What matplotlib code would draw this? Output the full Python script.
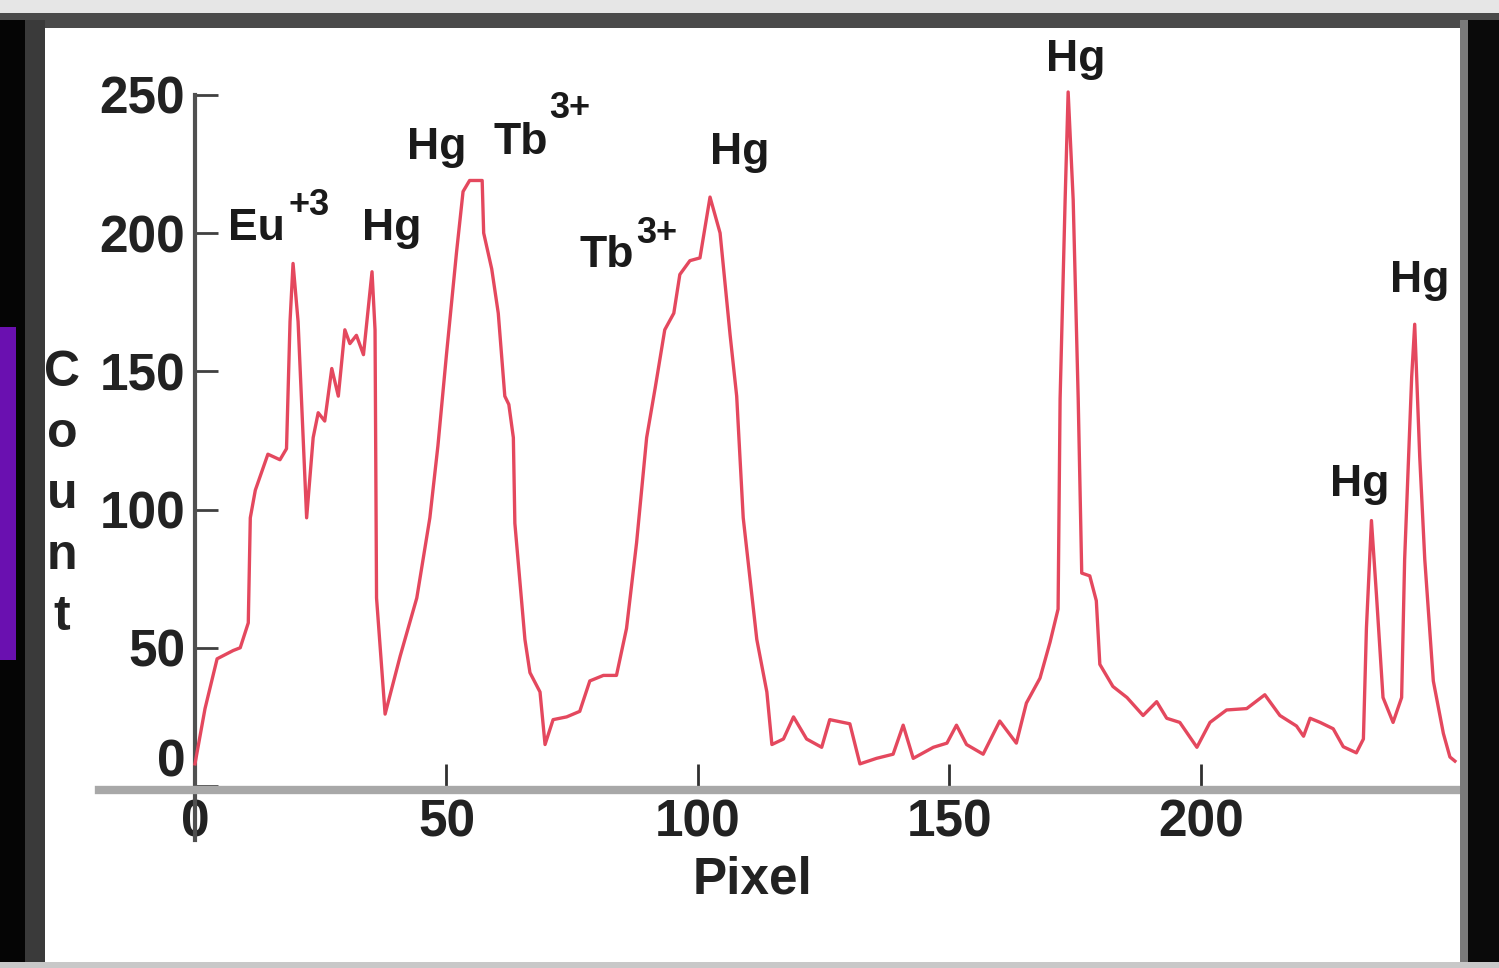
import matplotlib
matplotlib.use("Agg")
import matplotlib.pyplot as plt
import matplotlib.transforms as mtransforms
from matplotlib.patches import Rectangle

W, H = 1499, 968

# spectrum (pixel index, counts)
pixel = [0, 2, 4.4, 7.6, 9, 10.6, 11, 12, 14.5, 16.9, 18.2, 18.9, 19.5, 20.5,
         22.2, 23.5, 24.5, 25.8, 27.2, 28.5, 29.8, 30.8, 32.1, 33.5, 35.2, 35.8,
         36.1, 37.8, 40.8, 44.1, 46.7, 48.3, 50, 52, 53.3, 54.6, 57.1, 57.4, 59,
         60.3, 61.6, 62.4, 63.3, 63.6, 65.6, 66.6, 68.6, 69.6, 71.2, 73.9, 76.5,
         78.5, 81.2, 83.8, 85.8, 87.8, 89.8, 91.5, 93.4, 95.2, 96.4, 98.4, 100.4,
         102.4, 104.4, 106.4, 107.7, 109, 111.7, 113.7, 114.7, 117, 119, 121.6,
         124.6, 126.2, 130.2, 132.2, 135.5, 138.8, 140.8, 142.8, 146.8, 149.5,
         151.4, 153.4, 156.7, 160, 163.3, 165.3, 168, 170, 171.6, 172, 173,
         173.6, 174.6, 175.6, 176.3, 177.9, 179.2, 179.9, 182.5, 185.3, 188.5,
         191.2, 193.2, 195.8, 199.2, 201.8, 205.1, 209.1, 212.7, 215.7, 219,
         220.4, 221.7, 223.7, 226.3, 228.3, 230.9, 232.3, 232.9, 233.9, 234.9,
         236.2, 238.2, 239.9, 240.5, 241.9, 242.5, 243.5, 244.5, 246.2, 248.2,
         249.5, 250.5]
counts = [8, 28, 46, 49, 50, 59, 97, 107, 120, 118, 122, 168, 189, 168,
          97, 126, 135, 132, 151, 141, 165, 160, 163, 156, 186, 165,
          68, 26, 47, 68, 97, 123, 156, 193, 215, 219, 219, 200, 187,
          171, 141, 138, 126, 95, 53, 41, 34, 15, 24, 25, 27,
          38, 40, 40, 57, 88, 126, 144, 165, 171, 185, 190, 191,
          213, 200, 163, 141, 97, 53, 34, 15, 17, 25, 17,
          14, 24, 22.5, 8, 10, 11.5, 22, 10, 14, 15.5,
          22, 15, 11.5, 23.5, 15.5, 30, 39, 52, 64, 140, 212,
          251, 212, 140, 77, 76, 67, 44, 36, 32, 25.5,
          30.5, 24.5, 23, 14, 23, 27.5, 28, 33, 25.5, 21.7,
          18, 24.5, 23, 20.7, 14.2, 12, 17, 57, 96, 69,
          32, 23, 32, 82, 148, 167, 119, 82, 38, 19,
          10.5, 9]

xticks = [0, 50, 100, 150, 200]
yticks = [0, 50, 100, 150, 200, 250]

peak_labels = ["Eu", "Hg", "Hg", "Tb", "Tb", "Hg", "Hg", "Hg", "Hg"]
label_x = [12.2, 39.2, 48.1, 64.8, 81.9, 108.3, 175.0, 231.6, 243.5]
label_y = [201.8, 201.8, 231.0, 232.9, 192.0, 229.0, 262.6, 108.9, 183.0]
sup_text = ["+3", "3+", "3+"]
sup_x = [22.6, 74.6, 91.8]
sup_y = [210.0, 245.0, 200.0]

FONT = ["Liberation Sans", "DejaVu Sans"]
plt.rcParams["font.family"] = FONT
plt.rcParams["font.weight"] = "bold"
plt.rcParams["axes.labelweight"] = "bold"

fig = plt.figure(figsize=(W / 100, H / 100), dpi=100, facecolor="white")

# axes placed so that pixel 0 -> x=195px, count 0 -> y=786px
ax = fig.add_axes([99.4 / W, (H - 841.3) / H, 1365.6 / W, 788 / H])
ax.set_xlim(-19, 252.5)
ax.set_ylim(-20, 265)
ax.patch.set_visible(False)

ax.plot(pixel, counts, color="#e4485e", lw=2.4, zorder=3)

for s in ["top", "right"]:
    ax.spines[s].set_visible(False)
ax.spines["left"].set_position(("data", 0))
ax.spines["left"].set_bounds(-19.5, 250)
ax.spines["left"].set_color("#505050")
ax.spines["left"].set_linewidth(3)
ax.spines["bottom"].set_position(("data", -1.5))
ax.spines["bottom"].set_color("#a8a8a8")
ax.spines["bottom"].set_linewidth(6)

ax.set_xticks(xticks)
ax.set_xticklabels([str(v) for v in xticks])
ax.set_yticks(yticks)
ax.set_yticklabels([str(v) for v in yticks])
ax.tick_params(axis="y", direction="in", length=16.5, width=2, color="#404040",
               pad=7, labelsize=37, labelcolor="#222222")
ax.tick_params(axis="x", direction="in", length=19, width=2, color="#303030",
               pad=6, labelsize=37, labelcolor="#222222")

# the "0" of the count axis sits above the pixel axis
lab0 = ax.yaxis.get_major_ticks()[0].label1
lab0.set_transform(lab0.get_transform() +
                   mtransforms.ScaledTranslation(0, 29 / 100, fig.dpi_scale_trans))

ax.set_xlabel("Pixel", fontsize=37, fontweight="bold", color="#222222")
ax.xaxis.set_label_coords((753 - 99.4) / 1365.6, (841.3 - 880) / 788)
ax.xaxis.label.set_va("center")

for t, x, y in zip(peak_labels, label_x, label_y):
    ax.text(x, y, t, ha="center", va="center", fontsize=32,
            weight="bold", color="#1a1a1a", zorder=4)
for t, x, y in zip(sup_text, sup_x, sup_y):
    ax.text(x, y, t, ha="center", va="center", fontsize=26,
            weight="bold", color="#1a1a1a", zorder=4)

fig.text(62 / W, 1 - 495 / H, "C\no\nu\nn\nt", ha="center", va="center",
         fontsize=36, linespacing=1.42, color="#222222")


def frame(x, y, w, h, color):
    fig.add_artist(Rectangle((x / W, 1 - (y + h) / H), w / W, h / H,
                             transform=fig.transFigure, color=color,
                             lw=0, zorder=10))


# window borders around the plot
frame(0, 0, W, 13, "#e6e6e6")
frame(0, 13, W, 15, "#4a4a4a")
frame(0, 20, 25, H - 20, "#050505")
frame(25, 20, 20, H - 20, "#3a3a3a")
frame(0, 327, 16, 333, "#6a10b0")
frame(1460, 20, 8, H - 20, "#7a7a7a")
frame(1468, 20, 31, H - 20, "#0a0a0a")
frame(0, 962, W, 6, "#c8c8c8")

fig.savefig("out.png", dpi=100)
